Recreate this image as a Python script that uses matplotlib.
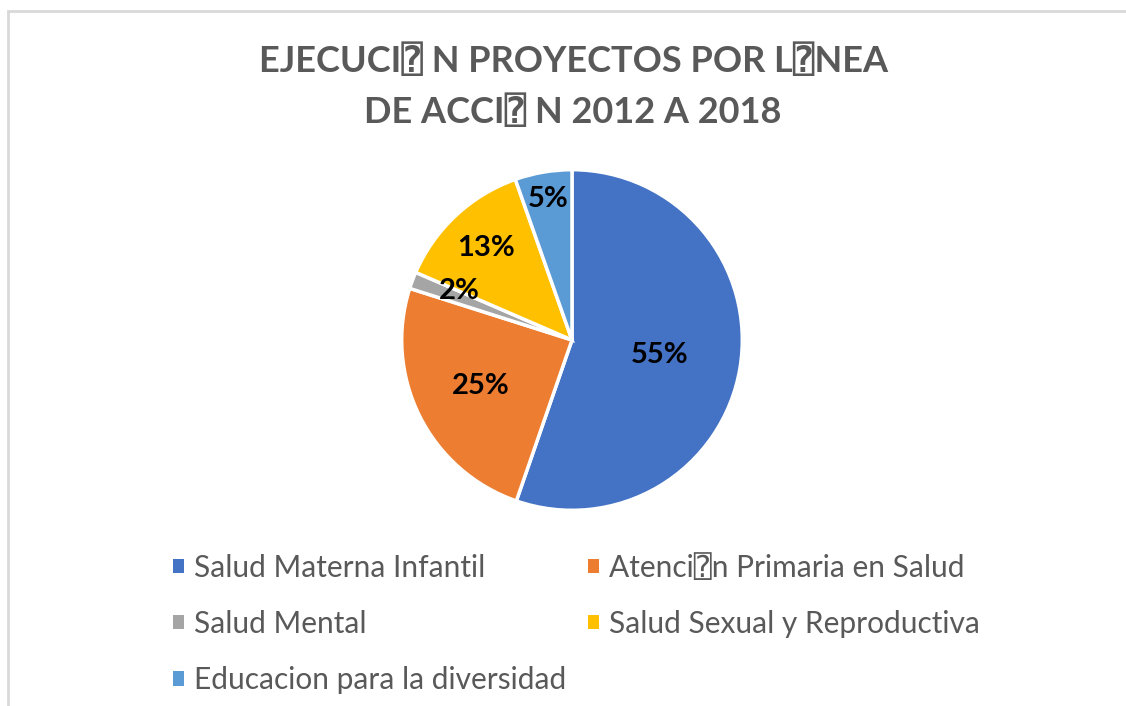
import matplotlib
matplotlib.use("Agg")
import matplotlib.pyplot as plt
from matplotlib.patches import Patch, Rectangle
import numpy as np

# Data
categories = ["Salud Materna Infantil", "Atenci\u2370n Primaria en Salud", "Salud Mental",
              "Salud Sexual y Reproductiva", "Educacion para la diversidad"]
shares = [55.3, 24.6, 1.6, 13.1, 5.4]
pct_labels = ["55%", "25%", "2%", "13%", "5%"]
colors = ["#4472C4", "#ED7D31", "#A5A5A5", "#FFC000", "#5B9BD5"]
title = "EJECUCI\u2370 N PROYECTOS POR L\u2370NEA\nDE ACCI\u2370 N 2012 A 2018"

plt.rcParams["font.family"] = ["Lato", "DejaVu Sans", "DejaVu Sans Mono"]

fig = plt.figure(figsize=(11.26, 7.06), dpi=100)
fig.patch.set_facecolor("white")

# chart border
fig.add_artist(Rectangle((8 / 1126, -0.1), 1.2, 1 - 11 / 706 + 0.1, transform=fig.transFigure,
                         fill=False, edgecolor="#d9d9d9", linewidth=2))

fig.text(0.509, 0.938, title, ha="center", va="top", fontsize=26, fontweight="bold",
         color="#595959", linespacing=1.55)

# pie centered at (572, 340), radius ~170 px
ax = fig.add_axes([(572 - 172) / 1126, (706 - 340 - 172) / 706, 344 / 1126, 344 / 706])
wedges, _ = ax.pie(shares, colors=colors, startangle=90, counterclock=False, radius=1.0,
                   wedgeprops=dict(edgecolor="white", linewidth=2.5))
ax.set_xlim(-1.01, 1.01)
ax.set_ylim(-1.01, 1.01)
ax.set_aspect("equal")
ax.axis("off")

# labels placed along each wedge's mid angle
label_dist = [0.52, 0.6, 0.72, 0.74, 0.84]
label_shift = [0, 0, -3, 0, 0]
for w, lab, d, s in zip(wedges, pct_labels, label_dist, label_shift):
    mid = np.deg2rad((w.theta1 + w.theta2) / 2 + s)
    ax.text(d * np.cos(mid), d * np.sin(mid), lab, ha="center", va="center",
            fontsize=21, fontweight="bold", color="black")

# legend in reference row order
order = [0, 2, 4, 1, 3]
handles = [Patch(facecolor=colors[i], edgecolor="none") for i in order]
fig.legend(handles, [categories[i] for i in order], ncol=2, frameon=False,
           loc="upper left", bbox_to_anchor=(146 / 1126, 1 - 527 / 706),
           fontsize=21.5, labelcolor="#595959", handlelength=0.37, handleheight=0.37,
           handletextpad=0.35, columnspacing=0.7, labelspacing=0.94)

fig.savefig("out.png", dpi=100)
